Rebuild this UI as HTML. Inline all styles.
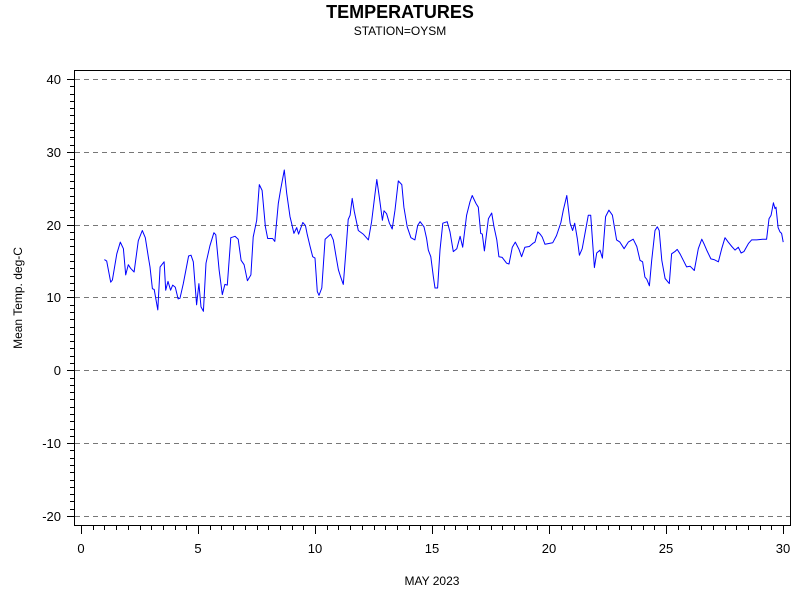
<!DOCTYPE html>
<html><head><meta charset="utf-8"><style>
body{margin:0;background:#fff;}
svg text{font-family:"Liberation Sans",sans-serif;}
</style></head><body>
<svg id="chart" width="800" height="600" xmlns="http://www.w3.org/2000/svg">
<text x="400" y="18" text-anchor="middle" font-size="18" font-weight="bold">TEMPERATURES</text>
<text x="400" y="35" text-anchor="middle" font-size="12">STATION=OYSM</text>
<text transform="translate(22,298) rotate(-90)" text-anchor="middle" font-size="12">Mean Temp. deg-C</text>
<text x="432" y="585" text-anchor="middle" font-size="12">MAY 2023</text>
<g id="grid"></g><g id="axes"></g><g id="series"></g>
<rect x="74.5" y="70.5" width="716" height="455" fill="none" stroke="#000" stroke-width="1"/>
</svg>
<script>
const yTicks=[40,30,20,10,0,-10,-20];
const xTicks=[0,5,10,15,20,25,30];
const days=[1.00,1.10,1.27,1.34,1.53,1.68,1.81,1.91,2.02,2.12,2.27,2.45,2.62,2.75,2.88,2.95,3.05,3.13,3.28,3.38,3.55,3.62,3.72,3.83,3.92,4.03,4.15,4.23,4.37,4.60,4.70,4.80,4.94,5.04,5.13,5.23,5.34,5.51,5.68,5.76,5.90,6.04,6.15,6.25,6.40,6.58,6.72,6.84,6.97,7.11,7.26,7.36,7.51,7.62,7.74,7.88,7.98,8.19,8.28,8.43,8.53,8.69,8.79,8.93,9.00,9.10,9.22,9.30,9.48,9.59,9.67,9.79,9.90,10.00,10.10,10.17,10.29,10.43,10.67,10.78,10.90,11.00,11.10,11.21,11.31,11.42,11.50,11.59,11.68,11.85,12.06,12.28,12.42,12.52,12.64,12.75,12.88,12.95,13.06,13.18,13.30,13.42,13.56,13.71,13.80,13.94,14.10,14.27,14.39,14.49,14.66,14.77,14.84,14.95,15.06,15.13,15.24,15.34,15.46,15.65,15.77,15.91,16.06,16.20,16.31,16.48,16.62,16.72,16.88,16.98,17.08,17.15,17.24,17.41,17.55,17.65,17.77,17.86,18.00,18.19,18.29,18.43,18.56,18.72,18.83,18.97,19.16,19.30,19.40,19.52,19.62,19.71,19.83,20.16,20.32,20.51,20.61,20.76,20.90,21.01,21.10,21.21,21.30,21.42,21.54,21.68,21.78,21.94,22.04,22.18,22.28,22.42,22.56,22.71,22.89,23.03,23.21,23.39,23.60,23.75,23.89,24.00,24.10,24.18,24.29,24.39,24.53,24.63,24.71,24.82,24.96,25.14,25.24,25.38,25.48,25.60,25.74,25.88,26.03,26.21,26.38,26.53,26.62,26.74,26.92,27.05,27.24,27.38,27.52,27.66,27.81,27.95,28.09,28.21,28.33,28.52,28.66,28.87,29.13,29.30,29.40,29.49,29.59,29.66,29.70,29.79,29.87,29.94,30.01];
const temps=[15.2,15.0,12.1,12.4,16.0,17.6,16.7,13.1,14.5,14.0,13.5,17.8,19.2,18.2,15.5,14.2,11.2,11.1,8.3,14.2,14.9,11.0,12.2,11.0,11.7,11.4,9.8,9.9,11.9,15.7,15.8,14.9,9.0,11.9,8.7,8.1,14.7,17.1,18.9,18.6,13.8,10.4,11.8,11.7,18.2,18.4,18.0,15.1,14.5,12.3,13.1,18.3,20.6,25.5,24.7,19.7,18.1,18.1,17.7,22.9,24.8,27.5,24.3,21.1,20.2,18.8,19.6,18.7,20.3,19.9,18.6,17.0,15.6,15.4,10.8,10.3,11.3,18.0,18.7,17.9,15.6,13.8,12.8,11.8,16.0,20.7,21.3,23.6,21.8,19.2,18.7,17.9,20.4,23.1,26.2,23.8,20.6,21.9,21.5,20.2,19.4,22.0,26.0,25.5,22.4,19.7,18.2,17.9,19.9,20.4,19.7,18.1,16.5,15.6,12.8,11.3,11.3,16.5,20.2,20.4,19.0,16.3,16.7,18.4,16.9,21.3,23.1,24.0,22.9,22.4,18.8,18.7,16.4,20.8,21.6,19.7,17.9,15.6,15.5,14.7,14.6,16.9,17.6,16.6,15.6,16.9,17.0,17.4,17.6,19.0,18.7,18.3,17.3,17.5,18.5,20.3,22.0,24.0,20.2,19.2,20.2,18.1,15.8,16.7,18.8,21.3,21.3,14.1,16.1,16.5,15.4,21.1,22.0,21.3,17.9,17.6,16.7,17.6,18.0,17.0,15.1,14.9,12.8,12.5,11.6,15.1,19.2,19.7,19.2,15.1,12.6,11.9,16.0,16.3,16.6,16.0,15.1,14.2,14.3,13.7,16.7,18.0,17.4,16.5,15.3,15.2,14.9,16.7,18.2,17.6,17.0,16.5,16.9,16.1,16.3,17.4,17.9,17.9,18.0,18.0,20.8,21.3,23.0,22.2,22.4,19.6,19.0,18.8,17.6];
const NS="http://www.w3.org/2000/svg";
const xs=d=>81+d*23.4;
const ys=t=>370.3-t*7.283;
function mk(tag,attrs,parent){const e=document.createElementNS(NS,tag);for(const k in attrs)e.setAttribute(k,attrs[k]);parent.appendChild(e);return e;}
const grid=document.getElementById('grid'),axes=document.getElementById('axes'),series=document.getElementById('series');
yTicks.forEach(t=>{
  const y=Math.round(ys(t))+0.5;
  const g=mk('line',{x1:75,x2:790,y1:y,y2:y,stroke:'#777','stroke-dasharray':'5,4'},grid);
  
  
  const tk=mk('line',{x1:67,x2:74,y1:y,y2:y,stroke:'#000'},axes);
  
  
  const tx=mk('text',{x:61,y:y+4.5,'text-anchor':'end','font-size':13},axes);
  tx.textContent=t;
  
  
});
for(let v=-20;v<=40;v++){if(v%10===0)continue;const y=Math.round(ys(v))+0.5;
  const m=mk('line',{x1:70,x2:74,y1:y,y2:y,stroke:'#000'},axes);
  
  }
for(let d=0;d<=30;d+=0.5){const x=Math.round(xs(d))+0.5;const major=d%5===0;
  const m=mk('line',{x1:x,x2:x,y1:526,y2:major?534:530,stroke:'#000'},axes);
  
  }
xTicks.forEach(d=>{const tx=mk('text',{x:xs(d),y:553,'text-anchor':'middle','font-size':13},axes);
  tx.textContent=d;
  
  });
const pts=days.map((d,i)=>xs(d).toFixed(1)+','+ys(temps[i]).toFixed(1)).join(' ');
const pl=mk('polyline',{points:pts,fill:'none',stroke:'#0000ff','stroke-width':1,'stroke-linejoin':'round'},series);


</script>
</body></html>
